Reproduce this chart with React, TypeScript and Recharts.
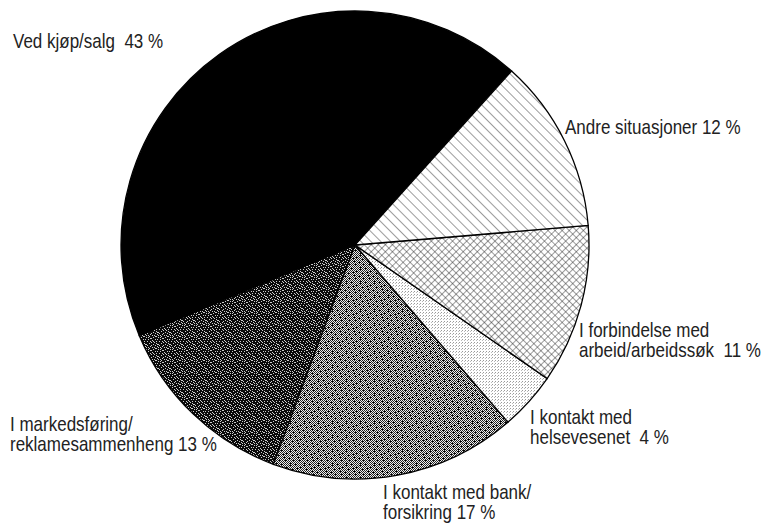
import React from 'react';
import { PieChart, Pie, Cell } from 'recharts';

const CATEGORIES: string[][] = [
  ['Ved kjøp/salg'],
  ['I markedsføring/', 'reklamesammenheng'],
  ['I kontakt med bank/', 'forsikring'],
  ['I kontakt med', 'helsevesenet'],
  ['I forbindelse med', 'arbeid/arbeidssøk'],
  ['Andre situasjoner'],
];
const VALUES = [43, 13, 17, 4, 11, 12];
const GAPS = ['  ', ' ', ' ', '  ', '  ', ' '];

// layout of the labels (left x, first baseline)
const LABEL_POS = [
  { x: 13, y: 48 },
  { x: 10, y: 431 },
  { x: 383, y: 499 },
  { x: 530, y: 424 },
  { x: 579, y: 337 },
  { x: 565, y: 134 },
];

const FILLS = ['#000', 'url(#darkNoise)', 'url(#greyDots)', 'url(#lightDots)', 'url(#crossHatch)', 'url(#diagHatch)'];

const data = CATEGORIES.map((lines, i) => ({ name: lines.join(' '), value: VALUES[i] }));

const FONT = "'Liberation Sans', Arial, sans-serif";
const NARROW = 0.85;

// irregular white specks for the dark stipple
const DARK_SPECKS = [
  [0, 0], [2, 1], [5, 0], [7, 2], [1, 3], [4, 3], [9, 1], [11, 3], [3, 5], [6, 5], [8, 4], [10, 6],
  [0, 7], [2, 8], [5, 7], [7, 9], [9, 8], [11, 9], [1, 10], [4, 11], [6, 10], [8, 11], [10, 11], [3, 9],
  [0, 5], [6, 2], [11, 0], [2, 11], [9, 5], [4, 1], [7, 6], [1, 8],
];
const GREY_SPECKS = [[1, 2], [6, 5], [10, 1], [3, 9], [8, 10], [12, 7], [5, 12], [13, 12], [2, 6], [9, 3]];

const renderLabel = (props: any) => {
  const { index } = props;
  const pos = LABEL_POS[index];
  const lines = CATEGORIES[index].slice();
  lines[lines.length - 1] = lines[lines.length - 1] + GAPS[index] + VALUES[index] + ' %';
  return (
    <text
      key={`lbl-${index}`}
      transform={`translate(${pos.x},${pos.y}) scale(${NARROW},1)`}
      fill="#222"
      fontSize={20}
      fontFamily={FONT}
      textAnchor="start"
      style={{ whiteSpace: 'pre' }}
    >
      {lines.map((l, j) => (
        <tspan key={j} x={0} y={j * 20.5}>{l}</tspan>
      ))}
    </text>
  );
};

export default function App() {
  return (
    <div style={{ position: 'absolute', left: 0, top: 0, width: 762, height: 525, background: '#fff' }}>
      <PieChart width={762} height={525} margin={{ top: 0, right: 0, bottom: 0, left: 0 }}>
        <defs>
          <pattern id="darkNoise" patternUnits="userSpaceOnUse" width={12} height={12}>
            <rect width={12} height={12} fill="#0a0a0a" />
            {DARK_SPECKS.map(([x, y], i) => (
              <rect key={i} x={x} y={y} width={1} height={1} fill="#ccc" />
            ))}
          </pattern>
          <pattern id="greyDots" patternUnits="userSpaceOnUse" width={14} height={14}>
            <rect width={14} height={14} fill="#eee" />
            {Array.from({ length: 7 }).map((_, r) =>
              Array.from({ length: 7 }).map((__, c) => (
                <React.Fragment key={`${r}-${c}`}>
                  <rect x={c * 2} y={r * 2} width={1} height={1} fill="#222" />
                  <rect x={c * 2 + 1} y={r * 2 + 1} width={1} height={1} fill="#222" />
                </React.Fragment>
              ))
            )}
            {GREY_SPECKS.map(([x, y], i) => (
              <rect key={`g${i}`} x={x} y={y} width={2} height={1} fill="#000" />
            ))}
          </pattern>
          <pattern id="lightDots" patternUnits="userSpaceOnUse" width={3} height={3}>
            <rect width={3} height={3} fill="#fff" />
            <rect x={0} y={0} width={1} height={1} fill="#999" />
            <rect x={2} y={1} width={1} height={1} fill="#bbb" />
          </pattern>
          <pattern id="crossHatch" patternUnits="userSpaceOnUse" width={5} height={5} patternTransform="rotate(45)">
            <rect width={5} height={5} fill="#fff" />
            <line x1={0} y1={0} x2={0} y2={5} stroke="#222" strokeWidth={0.9} />
            <line x1={0} y1={0} x2={5} y2={0} stroke="#222" strokeWidth={0.9} />
          </pattern>
          <pattern id="diagHatch" patternUnits="userSpaceOnUse" width={7} height={7} patternTransform="rotate(-45)">
            <rect width={7} height={7} fill="#fff" />
            <line x1={0} y1={0} x2={0} y2={7} stroke="#222" strokeWidth={0.9} />
          </pattern>
        </defs>
        <Pie
          data={data}
          dataKey="value"
          nameKey="name"
          cx={355}
          cy={245}
          outerRadius={234}
          startAngle={48}
          endAngle={408}
          stroke="#000"
          strokeWidth={1.3}
          label={renderLabel}
          labelLine={false}
          isAnimationActive={false}
        >
          {data.map((d, i) => (
            <Cell key={d.name} fill={FILLS[i]} />
          ))}
        </Pie>
      </PieChart>
    </div>
  );
}
